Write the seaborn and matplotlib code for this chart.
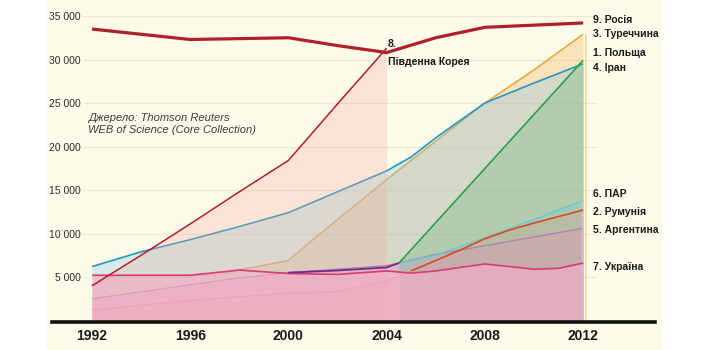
import matplotlib
matplotlib.use("Agg")
import matplotlib.pyplot as plt
import seaborn as sns
import pandas as pd
from matplotlib.patches import Rectangle

# ---------------- data ----------------
russia_years = [1992, 1996, 2000, 2002, 2004, 2006, 2008, 2010, 2012]
russia_vals = [33500, 32300, 32500, 31600, 30800, 32500, 33700, 33950, 34200]

korea_years = [1992, 1994, 1996, 1998, 2000, 2002, 2004]
korea_vals = [4000, 7500, 11100, 14800, 18400, 24900, 31300]

iran_years = [1992, 1994, 1996, 1998, 2000, 2002, 2004, 2005, 2006, 2008, 2010, 2012]
iran_vals = [6200, 7900, 9300, 10800, 12400, 14800, 17200, 18800, 21000, 25000, 27300, 29500]

turkey_years = [1992, 1993, 1997, 1998, 2000, 2001, 2004, 2006, 2008, 2010, 2012]
turkey_vals = [4000, 5200, 5200, 5800, 6900, 9300, 16200, 20600, 25000, 28800, 32900]

poland_years = [2000, 2002, 2004, 2004.5, 2012]
poland_vals = [5500, 5750, 6100, 6600, 29900]

par_years = [2004.5, 2006, 2008, 2010, 2012]
par_vals = [6600, 7500, 9500, 11600, 13800]

argentina_years = [1992, 1996, 1998, 2000, 2004, 2006, 2008, 2010, 2012]
argentina_vals = [2500, 4100, 4900, 5500, 6300, 7600, 8600, 9600, 10600]

romania_years = [1992, 1996, 2000, 2002, 2003, 2004, 2005, 2006, 2007, 2008, 2009, 2010, 2012]
romania_vals = [1200, 2300, 3150, 3300, 3900, 4600, 5700, 6900, 8100, 9400, 10400, 11200, 12700]

ukraine_years = [1992, 1996, 1998, 2000, 2002, 2004, 2005, 2006, 2008, 2010, 2011, 2012]
ukraine_vals = [5200, 5200, 5800, 5400, 5300, 5700, 5450, 5700, 6500, 5900, 6000, 6600]

year_ticks = [1992, 1996, 2000, 2004, 2008, 2012]
value_ticks = [5000, 10000, 15000, 20000, 25000, 30000, 35000]
value_tick_labels = ["5 000", "10 000", "15 000", "20 000", "25 000", "30 000", "35 000"]

end_labels = ["9. Росія", "3. Туреччина", "1. Польща", "4. Іран",
              "6. ПАР", "2. Румунія", "5. Аргентина", "7. Україна"]
end_label_y = [34540, 32930, 30750, 29020, 14540, 12470, 10400, 6150]
korea_label = "8.\nПівденна Корея"
source_text = "Джерело: Thomson Reuters\nWEB of Science (Core Collection)"

# ---------------- style ----------------
sns.set_style("white")
plt.rcParams["font.family"] = ["Liberation Sans", "DejaVu Sans"]

fig = plt.figure(figsize=(7.13, 3.5), dpi=100, facecolor="white")
fig.patches.append(Rectangle((47 / 713, 0), (662 - 47) / 713, 1,
                             transform=fig.transFigure, facecolor="#fdfbea",
                             edgecolor="none", zorder=-10))
ax = fig.add_axes([52 / 713, 28 / 350, 603 / 713, 322 / 350])
ax.set_zorder(1)
ax.patch.set_alpha(0)

def df(y, v):
    return pd.DataFrame({"year": y, "value": v})

def line(y, v, color, lw, z):
    sns.lineplot(data=df(y, v), x="year", y="value", color=color, lw=lw,
                 ax=ax, zorder=z, legend=False, solid_capstyle="butt")

def fill(y, v, color, alpha, z):
    ax.fill_between(y, 0, v, color=color, alpha=alpha, lw=0, zorder=z)

# gridlines
ax.hlines(value_ticks, 1991.63, 2012.57, color="#ece8d2", lw=0.8, zorder=0.5)

# Turkey
fill(turkey_years, turkey_vals, "#f5b860", 0.35, 1)
line(turkey_years, turkey_vals, "#eea234", 1.1, 1.5)
# Iran
fill(iran_years, iran_vals, "#8cc8e0", 0.35, 2)
line(iran_years, iran_vals, "#2596c2", 1.2, 2.5)
# South Korea fill over earlier lines
fill(korea_years, korea_vals, "#f0b0a6", 0.3, 3)
# Poland
fill(poland_years[3:], poland_vals[3:], "#5fb070", 0.28, 4)
line(poland_years[3:], poland_vals[3:], "#1f9a48", 1.1, 9)
# PAR
fill(par_years, par_vals, "#70cfc4", 0.3, 5)
line(par_years, par_vals, "#6cc6d2", 1.1, 8)
# Romania
fill(romania_years, romania_vals, "#f09a80", 0.3, 5.5)
line(romania_years[:7], romania_vals[:7], "#e88a9a", 1.0, 5.8)
line(romania_years[6:], romania_vals[6:], "#e2471e", 1.2, 8.2)
# Argentina
fill(argentina_years, argentina_vals, "#e890b8", 0.35, 6.2)
line(argentina_years, argentina_vals, "#b57fb0", 1.0, 6.5)
# Ukraine
fill(ukraine_years, ukraine_vals, "#f5b0cc", 0.6, 7)
line(ukraine_years, ukraine_vals, "#d83a7a", 1.2, 8.5)
# Poland early (purple)
line(poland_years[:4], poland_vals[:4], "#74288e", 1.3, 9.2)
# South Korea line
line(korea_years, korea_vals, "#b8192b", 1.1, 9.5)
# Russia
line(russia_years, russia_vals, "#b21f2a", 2.3, 10)

# edges at 2012
ax.vlines(2012.1, 0, turkey_vals[-1], color="#f6d59c", lw=1.2, zorder=1)
ax.vlines(2011.95, 0, par_vals[-1], color="#d8b8d8", lw=1.0, zorder=7.5)

# axes setup
ax.set_xlim(1990.37, 2014.93)
ax.set_ylim(-170, 36840)
ax.set_xticks(year_ticks)
ax.set_xticklabels([str(y) for y in year_ticks], fontsize=10, fontweight="bold",
                   color="#1a1a1a")
ax.set_yticks(value_ticks)
ax.set_yticklabels(value_tick_labels, fontsize=7.5, color="#2a2a2a",
                   family=["Liberation Sans Narrow", "Liberation Sans", "DejaVu Sans"])
ax.tick_params(axis="y", length=0, pad=-20.9)
ax.tick_params(axis="x", length=0, pad=5)
ax.set_xlabel("")
ax.set_ylabel("")
for s in ["top", "right", "left"]:
    ax.spines[s].set_visible(False)
ax.spines["bottom"].set_color("#111111")
ax.spines["bottom"].set_linewidth(2.6)
ax.spines["bottom"].set_zorder(12)

for txt, yv in zip(end_labels, end_label_y):
    ax.text(2012.42, yv, txt, fontsize=7.5, fontweight="bold", color="#1a1a1a",
            va="center", ha="left", zorder=12)

ax.text(2004.05, 30750, korea_label, fontsize=7.5, fontweight="bold",
        color="#1a1a1a", va="center", ha="left", linespacing=1.9, zorder=12)

ax.text(1991.84, 22600, source_text, fontsize=8, style="italic",
        color="#3a3a3a", va="center", ha="left", linespacing=1.3, zorder=12)

fig.savefig("out.png", dpi=100, facecolor="white")
